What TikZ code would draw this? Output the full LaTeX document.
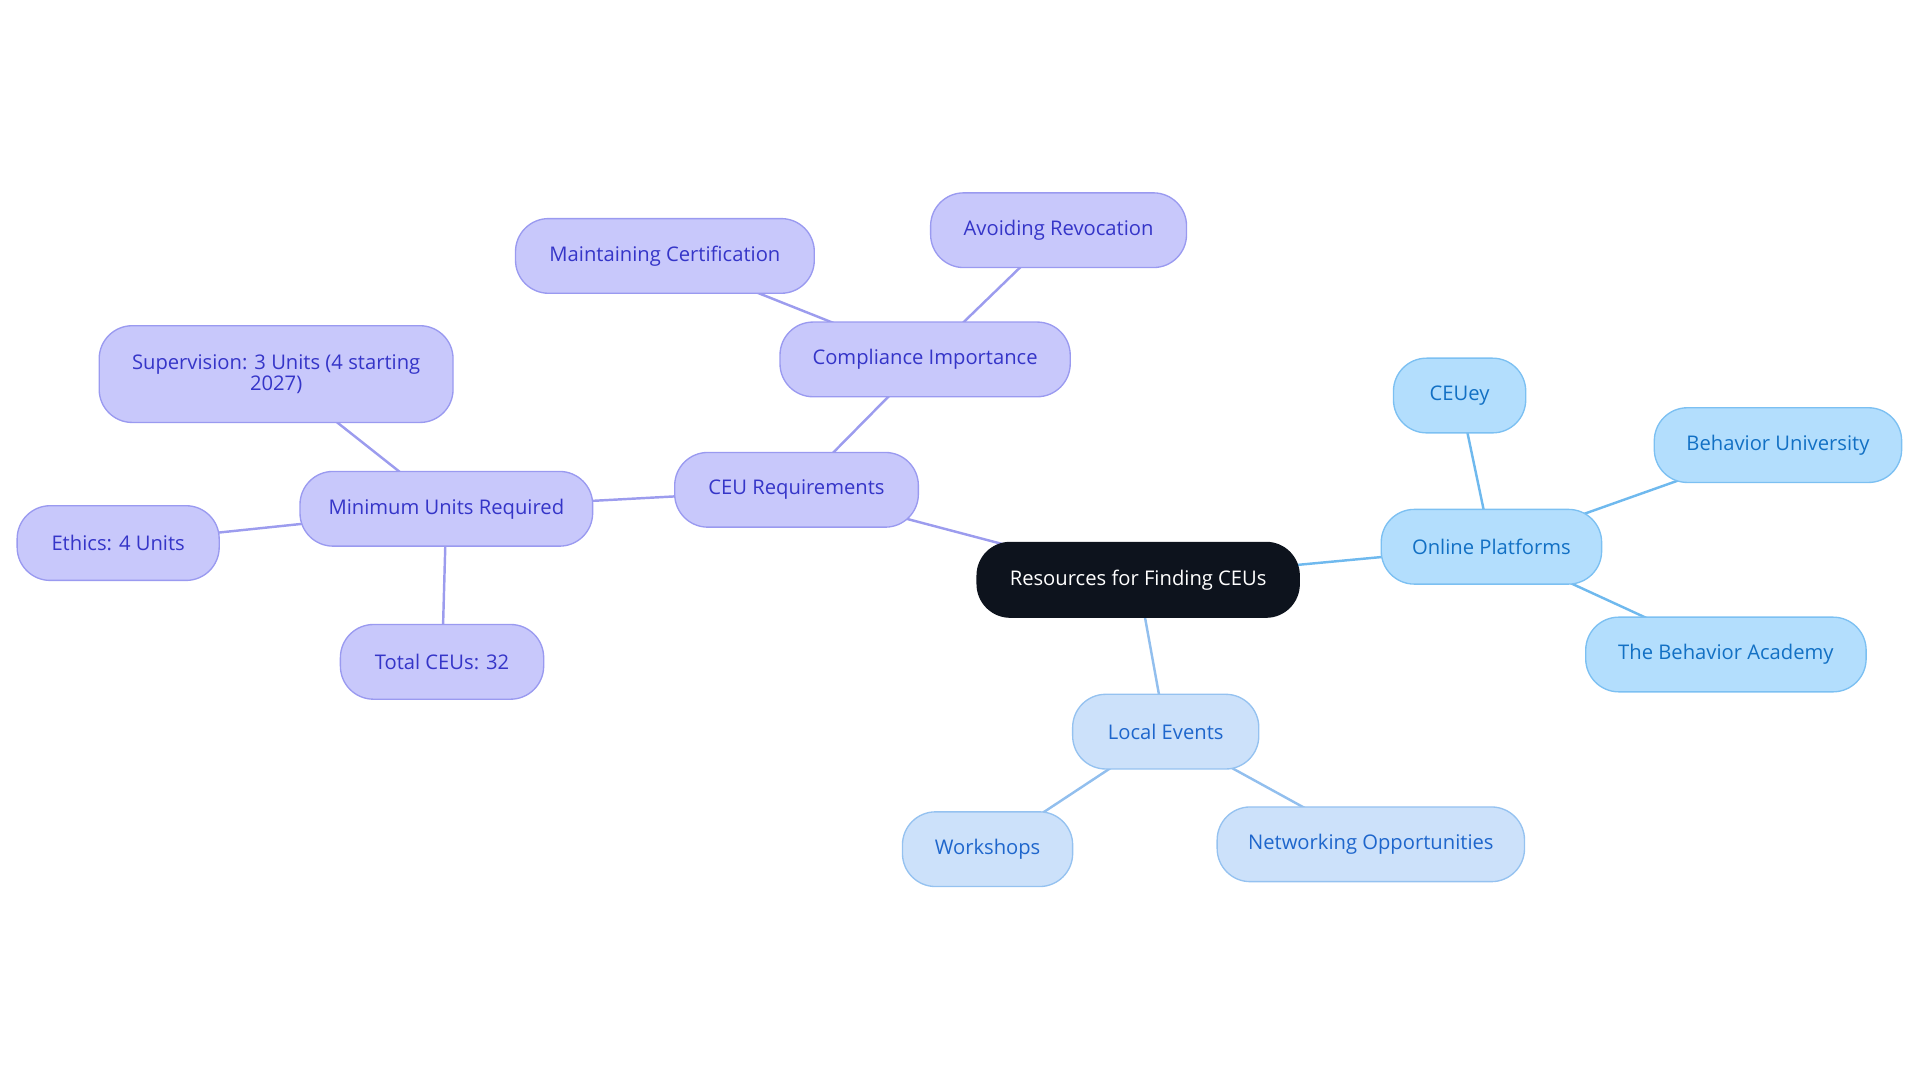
\documentclass[tikz,border=0pt]{standalone}
\usepackage{fontspec}
\setmainfont{Open Sans}
\usetikzlibrary{backgrounds}
\definecolor{pfill}{HTML}{C8C8FB}
\definecolor{pdraw}{HTML}{9A9AF0}
\definecolor{ptext}{HTML}{3535C8}
\definecolor{bfill}{HTML}{B3DEFD}
\definecolor{bdraw}{HTML}{7CC0F2}
\definecolor{btext}{HTML}{1270C4}
\definecolor{lfill}{HTML}{CCE1FA}
\definecolor{ldraw}{HTML}{95C2F0}
\definecolor{ltext}{HTML}{1E66CC}
\definecolor{rootfill}{HTML}{0D131D}
\definecolor{pedge}{HTML}{9C9CEE}
\definecolor{bedge}{HTML}{6FB9EE}
\definecolor{ledge}{HTML}{92BFEE}
\tikzset{
  box/.style={rounded corners=27pt, minimum height=61pt, line width=1.1pt, inner sep=0pt, align=center, font=\fontsize{16.5}{18}\selectfont},
  pbox/.style={box, fill=pfill, draw=pdraw, text=ptext},
  bbox/.style={box, fill=bfill, draw=bdraw, text=btext},
  lbox/.style={box, fill=lfill, draw=ldraw, text=ltext},
  rootbox/.style={box, fill=rootfill, draw=rootfill, text=white},
  pline/.style={draw=pedge, line width=2pt},
  bline/.style={draw=bedge, line width=2pt},
  lline/.style={draw=ledge, line width=2pt},
}
\begin{document}
\begin{tikzpicture}[x=1pt,y=-1pt]
\useasboundingbox (0,0) rectangle (1568,884.4);
\node[rootbox, minimum width=263pt] (root) at (929.5,473.5) {Resources for Finding CEUs};
\node[pbox, minimum width=199pt] (ceu) at (650.5,400) {CEU Requirements};
\node[pbox, minimum width=237pt] (comp) at (755.5,293.5) {Compliance Importance};
\node[pbox, minimum width=244pt] (maint) at (543,209) {Maintaining Certification};
\node[pbox, minimum width=209pt] (avoid) at (864.5,188) {Avoiding Revocation};
\node[pbox, minimum width=239pt] (min) at (364.5,415.5) {Minimum Units Required};
\node[pbox, minimum width=289pt, minimum height=79pt] (sup) at (225.5,305.5) {Supervision: 3 Units (4 starting\\[-1pt]2027)};
\node[pbox, minimum width=165pt] (eth) at (96.5,443.5) {Ethics: 4 Units};
\node[pbox, minimum width=166pt] (tot) at (361,540.5) {Total CEUs: 32};
\node[bbox, minimum width=180pt] (online) at (1218,446.5) {Online Platforms};
\node[bbox, minimum width=108pt] (ceuey) at (1192,323) {CEUey};
\node[bbox, minimum width=202pt] (bu) at (1452,363.5) {Behavior University};
\node[bbox, minimum width=229pt] (tba) at (1409.5,534.5) {The Behavior Academy};
\node[lbox, minimum width=152pt] (local) at (952,597.5) {Local Events};
\node[lbox, minimum width=139pt] (work) at (806.5,693.5) {Workshops};
\node[lbox, minimum width=251pt] (net) at (1119.5,689.5) {Networking Opportunities};
\begin{pgfonlayer}{background}
\draw[pline] (root.center) -- (ceu.center);
\draw[pline] (ceu.center) -- (comp.center);
\draw[pline] (comp.center) -- (maint.center);
\draw[pline] (comp.center) -- (avoid.center);
\draw[pline] (ceu.center) -- (min.center);
\draw[pline] (min.center) -- (sup.center);
\draw[pline] (min.center) -- (eth.center);
\draw[pline] (min.center) -- (tot.center);
\draw[bline] (root.center) -- (online.center);
\draw[bline] (online.center) -- (ceuey.center);
\draw[bline] (online.center) -- (bu.center);
\draw[bline] (online.center) -- (tba.center);
\draw[lline] (root.center) -- (local.center);
\draw[lline] (local.center) -- (work.center);
\draw[lline] (local.center) -- (net.center);
\end{pgfonlayer}
\end{tikzpicture}
\end{document}
